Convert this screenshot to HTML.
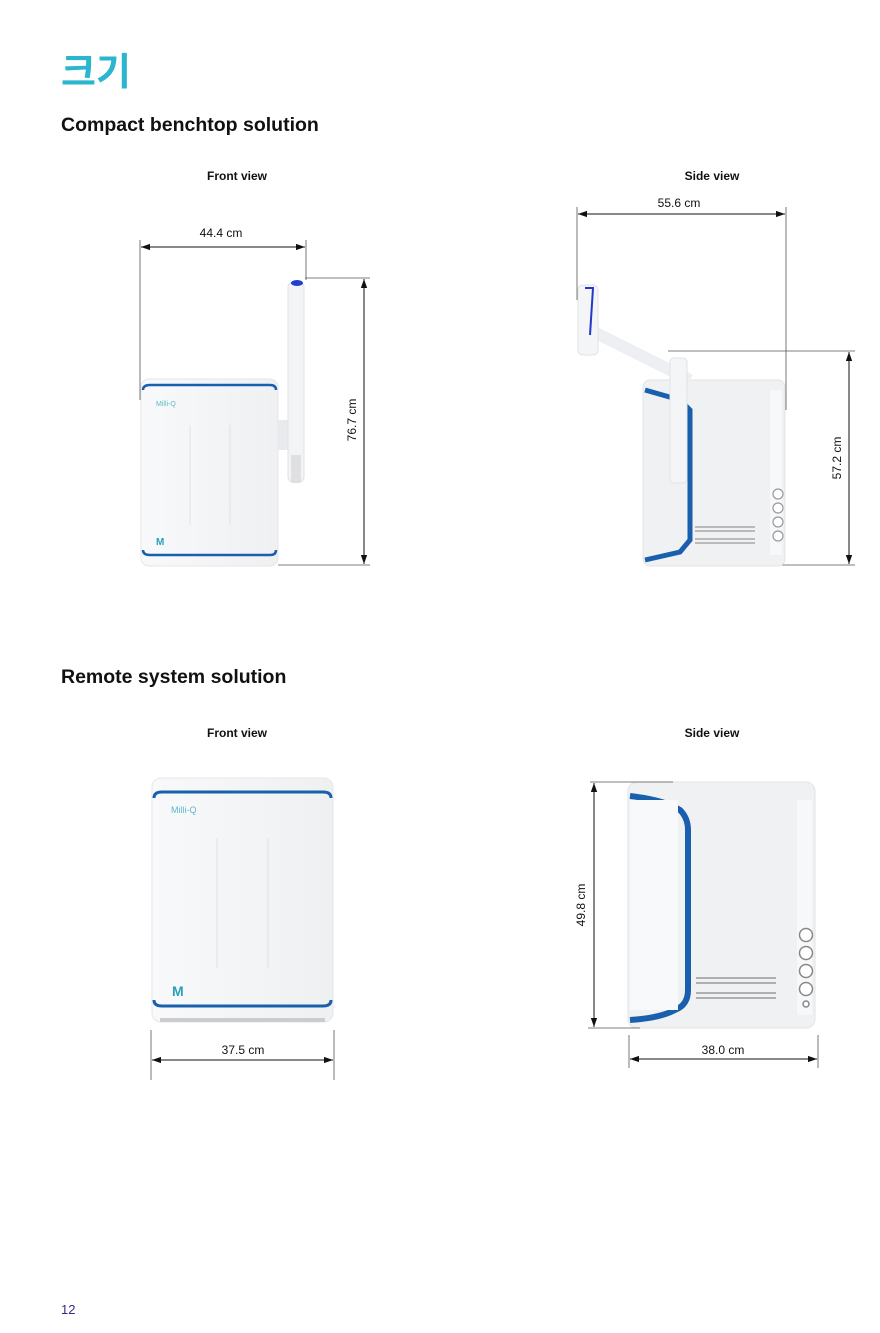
<!DOCTYPE html>
<html><head><meta charset="utf-8"><style>
html,body{margin:0;padding:0;background:#fff;}
svg{display:block;}
text{font-family:"Liberation Sans","Noto Sans CJK KR",sans-serif;}
</style></head><body>
<svg width="880" height="1333" viewBox="0 0 880 1333" xmlns="http://www.w3.org/2000/svg">
<defs>
<marker id="a" viewBox="0 0 10 10" refX="10" refY="5" markerWidth="9" markerHeight="9" orient="auto-start-reverse"><path d="M0,1.5 L10,5 L0,8.5 z" fill="#111"/></marker>
<linearGradient id="g1" x1="0" x2="1"><stop offset="0" stop-color="#f8f9fa"/><stop offset="1" stop-color="#eef0f2"/></linearGradient>
</defs>
<text x="61" y="85" font-size="38" font-weight="bold" fill="#2bb5cf" font-family="Noto Sans CJK KR, sans-serif">크기</text>
<text x="61" y="131" font-size="19.5" font-weight="bold" fill="#111">Compact benchtop solution</text>
<text x="237" y="180" font-size="12" font-weight="bold" text-anchor="middle" fill="#111">Front view</text>
<text x="712" y="180" font-size="12" font-weight="bold" text-anchor="middle" fill="#111">Side view</text>

<g stroke="#555" stroke-width="0.8">
<line x1="140" y1="240" x2="140" y2="400"/><line x1="306" y1="240" x2="306" y2="280"/>
<line x1="305" y1="278" x2="370" y2="278"/><line x1="278" y1="565" x2="370" y2="565"/>
</g>
<g stroke="#111" stroke-width="1">
<line x1="141" y1="247" x2="305" y2="247" marker-start="url(#a)" marker-end="url(#a)"/>
<line x1="364" y1="279" x2="364" y2="564" marker-start="url(#a)" marker-end="url(#a)"/>
</g>
<text x="221" y="237" font-size="12" text-anchor="middle" fill="#111">44.4 cm</text>
<text transform="translate(356,420) rotate(-90)" font-size="12" text-anchor="middle" fill="#111">76.7 cm</text>
<rect x="141" y="379" width="137" height="187" rx="8" fill="url(#g1)" stroke="#e4e6ea"/>
<path d="M143,390 Q143,385 150,385 L270,385 Q276,385 276,390" fill="none" stroke="#1a5fae" stroke-width="2.5"/>
<path d="M143,550 Q143,555 150,555 L270,555 Q276,555 276,550" fill="none" stroke="#1a5fae" stroke-width="2.5"/>
<line x1="190" y1="425" x2="190" y2="525" stroke="#e2e2e2"/><line x1="230" y1="425" x2="230" y2="525" stroke="#e2e2e2"/>
<text x="156" y="406" font-size="7" fill="#5bb9c8">Milli-Q</text>
<text x="156" y="545" font-size="10" font-weight="bold" fill="#2a9fb8">M</text>
<rect x="278" y="420" width="12" height="30" fill="#e8eaee"/>
<rect x="288" y="282" width="16" height="200" rx="5" fill="#f3f4f6" stroke="#dfe2e6"/>
<rect x="291" y="455" width="10" height="28" fill="#e0e0e0"/>
<ellipse cx="297" cy="283" rx="6" ry="3" fill="#2040d0"/>

<g stroke="#555" stroke-width="0.8">
<line x1="577" y1="207" x2="577" y2="300"/><line x1="786" y1="207" x2="786" y2="410"/>
<line x1="668" y1="351" x2="855" y2="351"/><line x1="742" y1="565" x2="855" y2="565"/>
</g>
<g stroke="#111" stroke-width="1">
<line x1="578" y1="214" x2="785" y2="214" marker-start="url(#a)" marker-end="url(#a)"/>
<line x1="849" y1="352" x2="849" y2="564" marker-start="url(#a)" marker-end="url(#a)"/>
</g>
<text x="679" y="207" font-size="12" text-anchor="middle" fill="#111">55.6 cm</text>
<text transform="translate(841,458) rotate(-90)" font-size="12" text-anchor="middle" fill="#111">57.2 cm</text>
<rect x="643" y="380" width="142" height="186" rx="7" fill="#f0f1f3" stroke="#e0e3e6"/>
<path d="M645,390 L680,400 L690,410 L690,540 L680,552 L645,560" fill="none" stroke="#1a5fae" stroke-width="5"/>
<rect x="770" y="390" width="12" height="165" fill="#f7f8f9"/>
<g fill="#fff" stroke="#999" stroke-width="1.2"><circle cx="778" cy="494" r="5"/><circle cx="778" cy="508" r="5"/><circle cx="778" cy="522" r="5"/><circle cx="778" cy="536" r="5"/></g>
<g stroke="#999" stroke-width="1.2"><line x1="695" y1="527" x2="755" y2="527"/><line x1="695" y1="531" x2="755" y2="531"/><line x1="695" y1="539" x2="755" y2="539"/><line x1="695" y1="543" x2="755" y2="543"/></g>
<path d="M590,330 L690,380" stroke="#eeeff2" stroke-width="12"/>
<rect x="670" y="358" width="17" height="125" rx="4" fill="#f4f5f7" stroke="#dfe2e6"/>
<rect x="578" y="285" width="20" height="70" rx="5" fill="#f4f5f7" stroke="#dfe2e6"/>
<path d="M585,288 L593,288 L590,335" fill="none" stroke="#2536c8" stroke-width="2"/>

<text x="61" y="683" font-size="19.5" font-weight="bold" fill="#111">Remote system solution</text>
<text x="237" y="737" font-size="12" font-weight="bold" text-anchor="middle" fill="#111">Front view</text>
<text x="712" y="737" font-size="12" font-weight="bold" text-anchor="middle" fill="#111">Side view</text>

<rect x="152" y="778" width="181" height="244" rx="9" fill="url(#g1)" stroke="#e4e6ea"/>
<path d="M154,798 Q154,792 162,792 L323,792 Q331,792 331,798" fill="none" stroke="#1a5fae" stroke-width="3"/>
<path d="M154,1000 Q154,1006 162,1006 L323,1006 Q331,1006 331,1000" fill="none" stroke="#1a5fae" stroke-width="3"/>
<line x1="217" y1="838" x2="217" y2="968" stroke="#e2e2e2"/><line x1="268" y1="838" x2="268" y2="968" stroke="#e2e2e2"/>
<text x="171" y="813" font-size="9" fill="#5bb9c8">Milli-Q</text>
<text x="172" y="996" font-size="14" font-weight="bold" fill="#2a9fb8">M</text>
<rect x="160" y="1018" width="165" height="4" fill="#ccc"/>
<g stroke="#555" stroke-width="0.8"><line x1="151" y1="1030" x2="151" y2="1080"/><line x1="334" y1="1030" x2="334" y2="1080"/></g>
<line x1="152" y1="1060" x2="333" y2="1060" stroke="#111" marker-start="url(#a)" marker-end="url(#a)"/>
<text x="243" y="1054" font-size="12" text-anchor="middle" fill="#111">37.5 cm</text>

<rect x="628" y="782" width="187" height="246" rx="9" fill="#f0f1f3" stroke="#e0e3e6"/>
<path d="M630,796 Q665,800 680,810 Q688,818 688,830 L688,990 Q688,1005 675,1010 Q660,1018 630,1020" fill="none" stroke="#1a5fae" stroke-width="6"/>
<rect x="630" y="800" width="48" height="210" fill="#f8f9fa"/>
<rect x="797" y="800" width="15" height="215" fill="#f7f8f9"/>
<g fill="#fff" stroke="#888" stroke-width="1.5"><circle cx="806" cy="935" r="6.5"/><circle cx="806" cy="953" r="6.5"/><circle cx="806" cy="971" r="6.5"/><circle cx="806" cy="989" r="6.5"/><circle cx="806" cy="1004" r="3"/></g>
<g stroke="#999" stroke-width="1.5"><line x1="696" y1="978" x2="776" y2="978"/><line x1="696" y1="983" x2="776" y2="983"/><line x1="696" y1="993" x2="776" y2="993"/><line x1="696" y1="998" x2="776" y2="998"/></g>
<g stroke="#555" stroke-width="0.8"><line x1="590" y1="782" x2="673" y2="782"/><line x1="588" y1="1028" x2="640" y2="1028"/>
<line x1="629" y1="1035" x2="629" y2="1068"/><line x1="818" y1="1035" x2="818" y2="1068"/></g>
<line x1="594" y1="783" x2="594" y2="1027" stroke="#111" marker-start="url(#a)" marker-end="url(#a)"/>
<line x1="630" y1="1059" x2="817" y2="1059" stroke="#111" marker-start="url(#a)" marker-end="url(#a)"/>
<text transform="translate(585,905) rotate(-90)" font-size="12" text-anchor="middle" fill="#111">49.8 cm</text>
<text x="723" y="1054" font-size="12" text-anchor="middle" fill="#111">38.0 cm</text>

<text x="61" y="1314" font-size="13" fill="#3a2a8a">12</text>
</svg>
</body></html>
